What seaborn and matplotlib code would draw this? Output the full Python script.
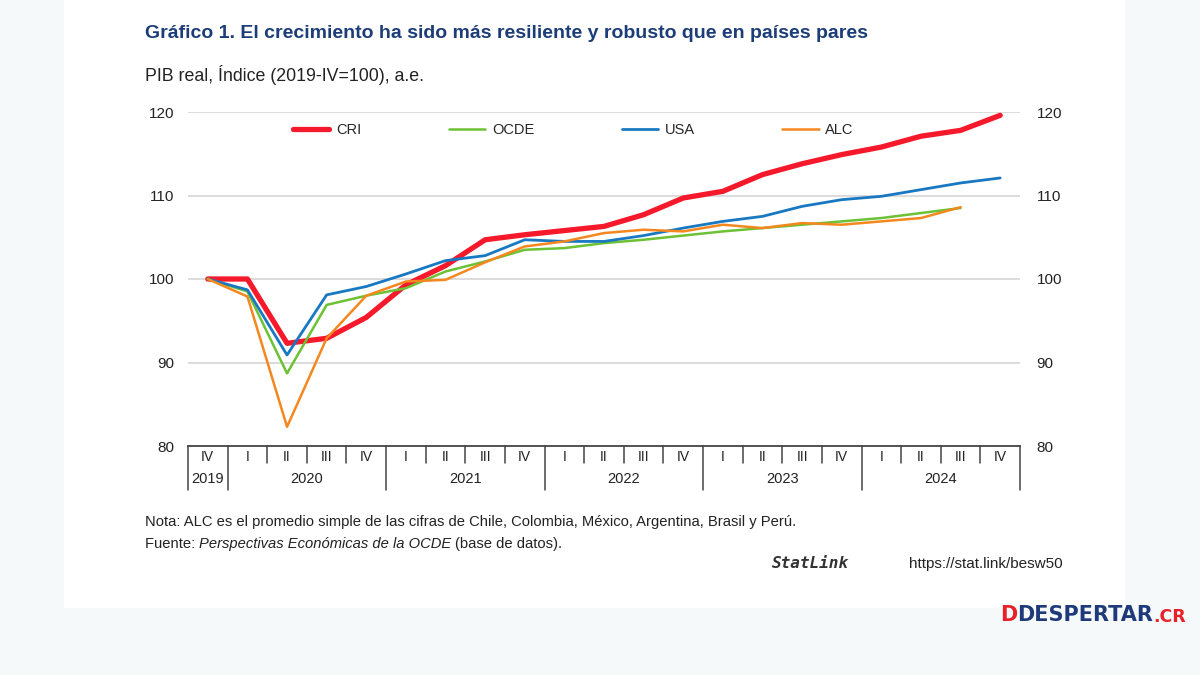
import pandas as pd
import numpy as np
import seaborn as sns
import matplotlib.pyplot as plt
from matplotlib.patches import Rectangle
from matplotlib.lines import Line2D

# datos (índice 2019-IV = 100)
trimestres = ['IV', 'I', 'II', 'III', 'IV', 'I', 'II', 'III', 'IV', 'I', 'II', 'III', 'IV',
              'I', 'II', 'III', 'IV', 'I', 'II', 'III', 'IV']
anios = ['2019', '2020', '2020', '2020', '2020', '2021', '2021', '2021', '2021',
         '2022', '2022', '2022', '2022', '2023', '2023', '2023', '2023',
         '2024', '2024', '2024', '2024']

cri = [100.0, 100.0, 92.3, 92.9, 95.4, 99.3, 101.6, 104.7, 105.3, 105.8, 106.3, 107.7, 109.7,
       110.5, 112.5, 113.8, 114.9, 115.8, 117.1, 117.8, 119.6]
ocde = [100.0, 98.5, 88.7, 96.9, 98.0, 98.9, 100.9, 102.1, 103.5, 103.7, 104.3, 104.7, 105.2,
        105.7, 106.1, 106.5, 106.9, 107.3, 107.9, 108.5, np.nan]
usa = [100.0, 98.7, 90.9, 98.1, 99.1, 100.6, 102.2, 102.8, 104.7, 104.5, 104.5, 105.2, 106.1,
       106.9, 107.5, 108.7, 109.5, 109.9, 110.7, 111.5, 112.1]
alc = [100.0, 97.9, 82.3, 92.9, 98.0, 99.7, 99.9, 102.0, 103.9, 104.5, 105.5, 105.9, 105.7,
       106.5, 106.1, 106.7, 106.5, 106.9, 107.3, 108.6, np.nan]

series = {'CRI': cri, 'OCDE': ocde, 'USA': usa, 'ALC': alc}
colores = {'CRI': '#f5192b', 'OCDE': '#6cc135', 'USA': '#1878c2', 'ALC': '#f5871f'}
grosores = {'CRI': 3.8, 'OCDE': 1.8, 'USA': 2.0, 'ALC': 1.8}

pos = np.arange(len(trimestres))
df = pd.concat([pd.DataFrame({'pos': pos, 'valor': v, 'serie': k}) for k, v in series.items()])

sns.set_style('white')
plt.rcParams['font.family'] = ['Liberation Sans', 'DejaVu Sans']

fig = plt.figure(figsize=(12, 6.75), dpi=100, facecolor='#f5f9f9')
# panel blanco
fig.patches.append(Rectangle((64 / 1200, 1 - 608 / 675), (1125 - 64) / 1200, 608 / 675,
                             transform=fig.transFigure, facecolor='white', edgecolor='none', zorder=-5))

ax = fig.add_axes([188 / 1200, 1 - 446 / 675, (1020 - 188) / 1200, (446 - 112) / 675])
ax.set_facecolor('none')

for k in series:
    d = df[df['serie'] == k].dropna()
    sns.lineplot(data=d, x='pos', y='valor', ax=ax, color=colores[k], linewidth=grosores[k],
                 label=k, sort=False, zorder=3)

ax.set_xlim(-0.5, len(trimestres) - 0.5)
ax.set_ylim(80, 120)
ax.set_yticks([80, 90, 100, 110, 120])
for y in [90, 100, 110, 120]:
    ax.axhline(y, color='#d9d9d9', lw=1.3, zorder=1)
for s in ['top', 'right', 'left']:
    ax.spines[s].set_visible(False)
ax.spines['bottom'].set_color('#444444')
ax.spines['bottom'].set_linewidth(1.3)
ax.set_xlabel('')
ax.set_ylabel('')
ax.set_xticks([])
ax.tick_params(axis='y', length=0, pad=10, labelsize=11, labelcolor='#222222')

ax2 = ax.twinx()
ax2.set_ylim(80, 120)
ax2.set_yticks([80, 90, 100, 110, 120])
ax2.tick_params(axis='y', length=0, pad=12, labelsize=11, labelcolor='#222222')
for s in ax2.spines.values():
    s.set_visible(False)

# eje de categorías de dos niveles
tr = ax.get_xaxis_transform()
for i, q in enumerate(trimestres):
    ax.text(pos[i], -0.033, q, transform=tr, ha='center', va='center', fontsize=10, color='#222222')
for i in range(len(trimestres) + 1):
    nuevo_anio = i == 0 or i == len(trimestres) or anios[i] != anios[i - 1]
    ax.plot([i - 0.5, i - 0.5], [0, -0.132 if nuevo_anio else -0.05], transform=tr,
            color='#444444', lw=1.1, clip_on=False)
for a in dict.fromkeys(anios):
    idx = [i for i, v in enumerate(anios) if v == a]
    ax.text(np.mean(idx), -0.099, a, transform=tr, ha='center', va='center', fontsize=10.5, color='#222222')

# leyenda
handles = [Line2D([], [], color=colores[k], lw=grosores[k]) for k in series]
leg = fig.legend(handles, list(series), loc='center left', bbox_to_anchor=(293 / 1200, 1 - 130 / 675),
                 ncol=4, frameon=False, fontsize=10.5, handlelength=2.5, handletextpad=0.45,
                 columnspacing=6.0, borderpad=0, borderaxespad=0)
ax.get_legend().remove()

# textos
fig.text(145 / 1200, 1 - 38 / 675, 'Gráfico 1. El crecimiento ha sido más resiliente y robusto que en países pares',
         fontsize=14, fontweight='bold', color='#1d3d78', va='baseline')
fig.text(145 / 1200, 1 - 81 / 675, 'PIB real, Índice (2019-IV=100), a.e.', fontsize=12.8, color='#222222',
         va='baseline')
fig.text(145 / 1200, 1 - 522 / 675,
         'Nota: ALC es el promedio simple de las cifras de Chile, Colombia, México, Argentina, Brasil y Perú.',
         fontsize=10.6, color='#222222', va='center')
t = fig.text(145 / 1200, 1 - 544 / 675, 'Fuente: ', fontsize=10.6, color='#222222', va='center')
fig.canvas.draw()
bb = t.get_window_extent()
t2 = fig.text(bb.x1 / 1200, 1 - 544 / 675, 'Perspectivas Económicas de la OCDE', fontsize=10.6,
              style='italic', color='#222222', va='center')
fig.canvas.draw()
bb2 = t2.get_window_extent()
fig.text(bb2.x1 / 1200 + 0.003, 1 - 544 / 675, '(base de datos).', fontsize=10.6, color='#222222', va='center')

fig.text(772 / 1200, 1 - 564 / 675, 'StatLink', fontsize=11.5, family=['DejaVu Sans Mono'], style='italic',
         fontweight='bold', color='#333333', va='center')
fig.text(1063 / 1200, 1 - 564 / 675, 'https://stat.link/besw50', fontsize=11, color='#222222',
         va='center', ha='right')

# logo
fig.text(1000 / 1200, 1 - 615 / 675, 'D', fontsize=15, fontweight='bold', family=['DejaVu Sans'],
         color='#e8202a', va='center')
lg = fig.text(1017 / 1200, 1 - 615 / 675, 'DESPERTAR', fontsize=15, fontweight='bold',
              family=['DejaVu Sans'], color='#1e3a7a', va='center')
fig.canvas.draw()
bl = lg.get_window_extent()
fig.text(bl.x1 / 1200, 1 - 617 / 675, '.CR', fontsize=12.5, fontweight='bold',
         family=['DejaVu Sans'], color='#e8202a', va='center')

fig.savefig('out.png', dpi=100, facecolor=fig.get_facecolor())
